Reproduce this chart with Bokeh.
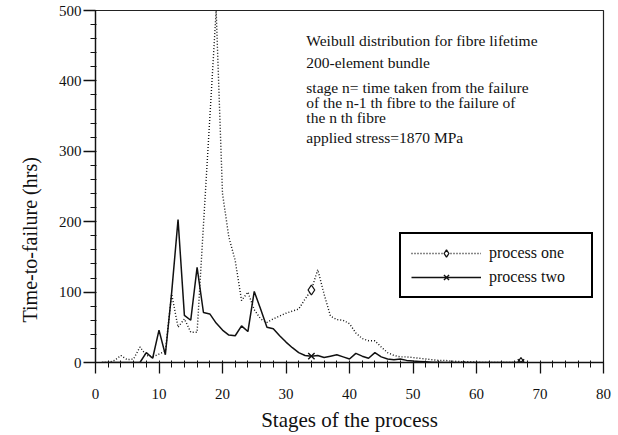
import math

from bokeh.plotting import figure
from bokeh.models import (Range1d, Label, Legend, LegendItem, FixedTicker,
                          ColumnDataSource, Title)
from bokeh.embed import file_html
from bokeh.resources import INLINE

# Stage index (n) and time-to-failure (hrs) for the two simulated processes
stages = list(range(1, 68))

process_one = [
    0, 0, 3, 10, 4, 5, 22, 10, 8, 12,
    16, 97, 50, 62, 43, 43, 195, 347, 500, 240,
    178, 145, 88, 100, 75, 62, 57, 62, 66, 70,
    73, 76, 90, 103, 132, 97, 66, 61, 60, 55,
    42, 34, 31, 31, 22, 14, 10, 8, 8, 7,
    6, 5, 4, 3, 3, 2, 1.5, 1, 1, 0.5,
    0, 0, 0, 0, 0, 0, 0,
]

process_two = [
    0, 0, 0, 0, 0, 0, 0, 14, 6, 46,
    11, 100, 203, 67, 60, 135, 71, 69, 56, 46,
    39, 38, 52, 44, 101, 76, 50, 48, 38, 29,
    21, 14, 10, 9, 10, 7, 9, 11, 8, 5,
    13, 9, 6, 14, 8, 5, 4, 5, 3, 2,
    1.5, 1, 0.5, 0.3, 0, 0, 0, 0, 0, 0,
    0, 0, 0, 0, 0, 0, 0,
]

# symbols are placed on every 33rd stage
marker_stages = [34, 67]

x_ticks = [0, 10, 20, 30, 40, 50, 60, 70, 80]
y_ticks = [0, 100, 200, 300, 400, 500]

notes = [
    ("Weibull distribution for fibre lifetime", 457),
    ("200-element  bundle", 426),
    ("stage n= time taken from the failure", 391),
    ("of the n-1 th fibre to the failure of", 369),
    ("the n th fibre", 348),
    ("applied stress=1870 MPa", 319),
]

SERIF = "Liberation Serif"
INK = "#111111"

p = figure(width=618, height=435, output_backend="svg", toolbar_location=None,
           x_range=Range1d(0, 80), y_range=Range1d(0, 500),
           min_border_left=95, min_border_right=15, min_border_top=10,
           min_border_bottom=73)
p.background_fill_color = "white"
p.border_fill_color = "white"
p.grid.visible = False
p.outline_line_color = "#222222"
p.outline_line_width = 1.2

# axes
p.xaxis.ticker = FixedTicker(ticks=x_ticks, minor_ticks=list(range(0, 81, 2)))
p.yaxis.ticker = FixedTicker(ticks=y_ticks, minor_ticks=list(range(0, 501, 20)))
for ax in (p.xaxis[0], p.yaxis[0]):
    ax.axis_line_color = INK
    ax.axis_line_width = 1.3
    ax.major_tick_line_color = INK
    ax.minor_tick_line_color = INK
    ax.major_tick_line_width = 1.3
    ax.minor_tick_line_width = 1.0
    ax.major_label_text_font = SERIF
    ax.major_label_text_font_size = "15px"
    ax.major_label_text_color = INK
    ax.axis_label_text_font = SERIF
    ax.axis_label_text_font_style = "normal"
    ax.axis_label_text_font_size = "21px"
    ax.axis_label_text_color = INK

p.xaxis.major_tick_out = 11
p.xaxis.major_tick_in = 0
p.xaxis.minor_tick_out = 5
p.xaxis.minor_tick_in = 2
p.xaxis.major_label_standoff = 15
p.xaxis.axis_label = "Stages of the process"
p.xaxis.axis_label_standoff = 6

p.yaxis.major_tick_out = 12
p.yaxis.major_tick_in = 0
p.yaxis.minor_tick_out = 5
p.yaxis.minor_tick_in = 1
p.yaxis.major_label_standoff = 2

# y axis title, starting a little above the bottom of the frame
p.add_layout(Title(text="Time-to-failure (hrs)", align="left", offset=40,
                   standoff=30, text_font=SERIF, text_font_size="20px",
                   text_font_style="normal", text_color=INK), "left")

# series
src = ColumnDataSource(dict(n=stages, one=process_one, two=process_two))
l1 = p.line("n", "one", source=src, line_color=INK, line_width=1.4,
            line_dash="1 2")
l2 = p.line("n", "two", source=src, line_color=INK, line_width=1.5)

idx = [stages.index(s) for s in marker_stages]
m1 = p.scatter([stages[i] for i in idx], [process_one[i] for i in idx],
               marker="diamond", size=10, fill_color="white",
               line_color=INK, line_width=1.3)
m2 = p.scatter([stages[i] for i in idx], [process_two[i] for i in idx],
               marker="x", size=9, line_color=INK, line_width=1.4)

legend = Legend(items=[LegendItem(label="process one", renderers=[l1, m1]),
                       LegendItem(label="process two", renderers=[l2, m2])],
                location=(304, 64), orientation="vertical",
                glyph_width=70, glyph_height=18, label_standoff=8,
                label_width=92, padding=10, spacing=6, margin=0,
                border_line_color="#000000", border_line_width=2.4,
                border_line_alpha=1.0,
                background_fill_color="white", background_fill_alpha=1,
                label_text_font=SERIF, label_text_font_size="16px",
                label_text_color=INK)
p.add_layout(legend, "center")

# explanatory notes inside the plot area
for txt, yv in notes:
    p.add_layout(Label(x=33.2, y=yv, text=txt, text_align="left",
                       text_baseline="middle", text_font=SERIF,
                       text_font_size="15.5px", text_color=INK))

open("out.html", "w").write(file_html(p, INLINE))
